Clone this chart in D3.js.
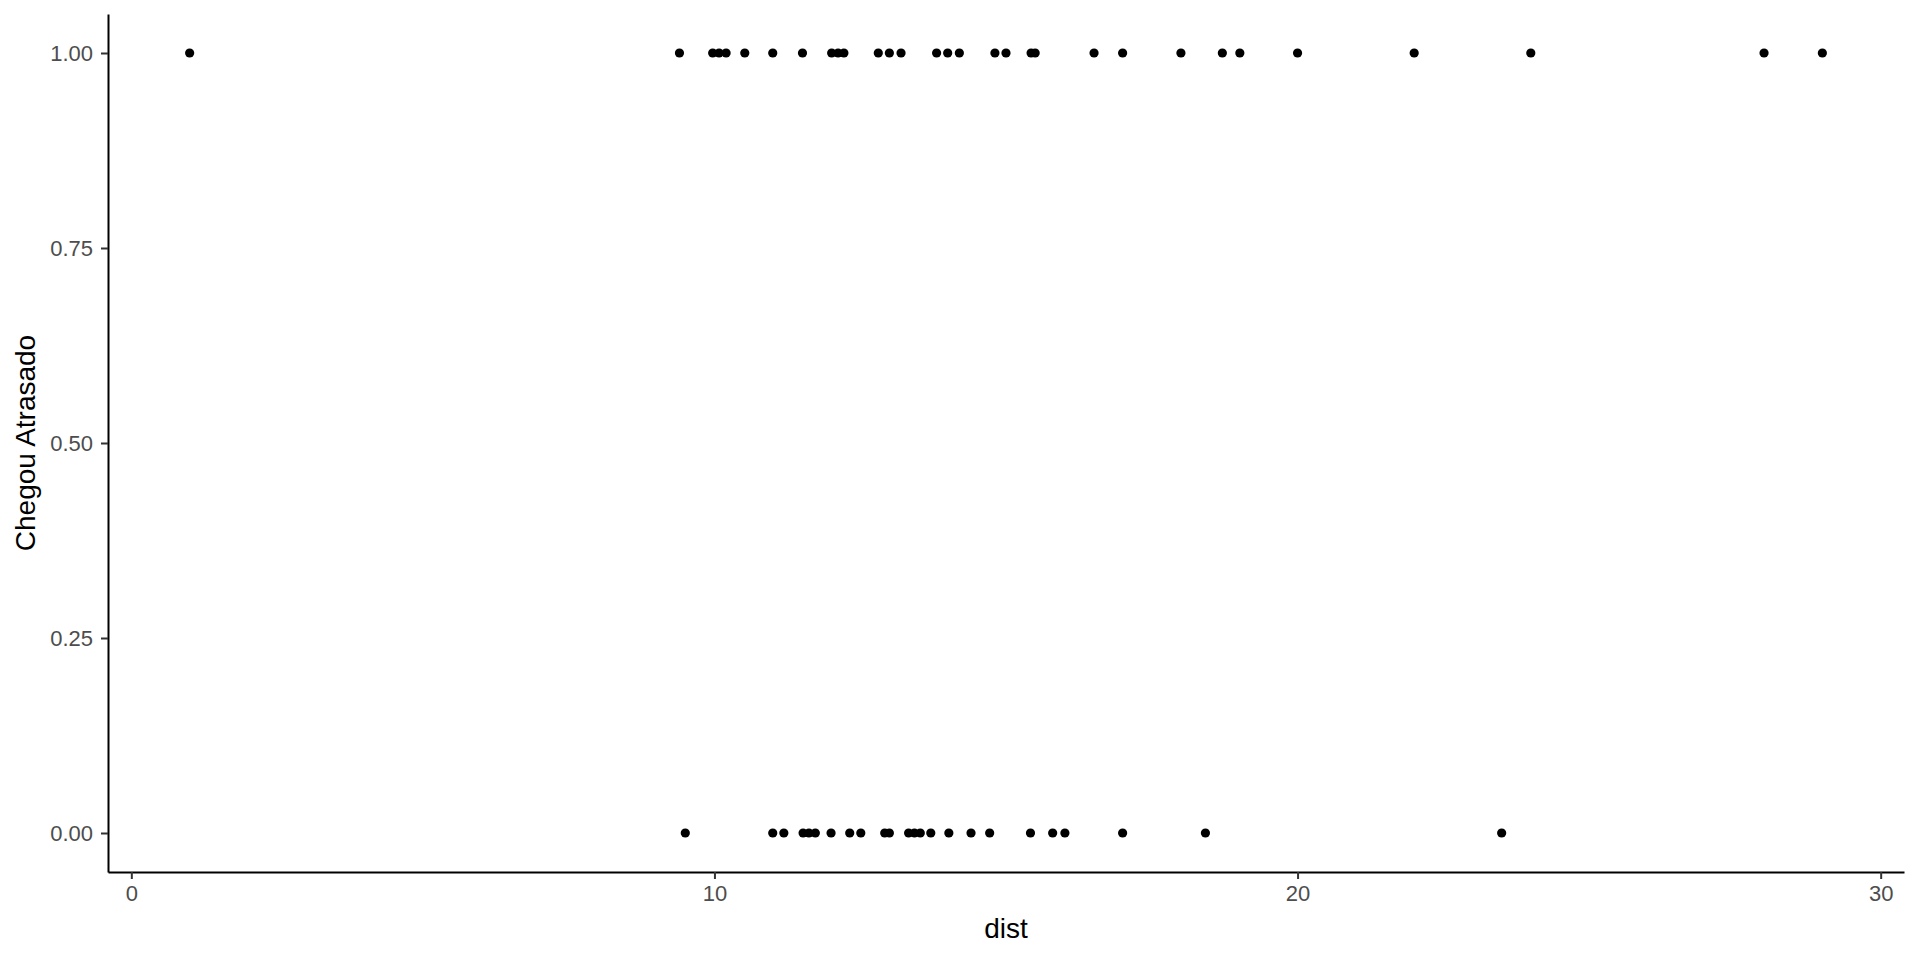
<!DOCTYPE html>
<html>
<head>
<meta charset="utf-8">
<script src="https://cdn.jsdelivr.net/npm/d3@7"></script>
<style>
  body { margin: 0; background: #fff; }
  svg text { font-family: "Liberation Sans", Arial, sans-serif; }
</style>
</head>
<body>
<div id="chart"></div>
<script>
var svgWidth = 1920;
var svgHeight = 960;

// distances for students that arrived late (y = 1) and on time (y = 0)
var distAtrasado = [1.0, 9.4, 9.97, 10.08, 10.2, 10.52, 11.0, 11.51, 12.01, 12.12, 12.22,
  12.81, 13.0, 13.2, 13.81, 14.0, 14.2, 14.81, 15.0, 15.43, 15.5, 16.51, 17.0,
  18.0, 18.71, 19.01, 20.0, 22.0, 24.0, 28.0, 29.0];
var distNoPrazo = [9.5, 11.0, 11.19, 11.52, 11.62, 11.73, 12.0, 12.32, 12.51, 12.92, 13.0,
  13.33, 13.43, 13.53, 13.71, 14.02, 14.4, 14.72, 15.42, 15.8, 16.01, 17.0, 18.42, 23.5];

var xTicks = [0, 10, 20, 30];
var yTicks = [0, 0.25, 0.5, 0.75, 1];

var margin = { top: 14, right: 16, bottom: 88, left: 108 };
var width = svgWidth - margin.left - margin.right;
var height = svgHeight - margin.top - margin.bottom;

var points = distAtrasado.map(d => ({ dist: d, late: 1 }))
  .concat(distNoPrazo.map(d => ({ dist: d, late: 0 })));

var svg = d3.select("#chart")
  .append("svg")
  .attr("width", svgWidth)
  .attr("height", svgHeight);

var chartGroup = svg.append("g")
  .attr("transform", `translate(${margin.left}, ${margin.top})`);

// ggplot-style 5% expansion on both axes
var xExtent = d3.extent(points, d => d.dist);
var xPad = (xExtent[1] - xExtent[0]) * 0.05;
var xScale = d3.scaleLinear()
  .domain([xExtent[0] - xPad, xExtent[1] + xPad])
  .range([0, width]);

var yScale = d3.scaleLinear()
  .domain([-0.05, 1.05])
  .range([height, 0]);

var bottomAxis = d3.axisBottom(xScale)
  .tickValues(xTicks)
  .tickSize(7)
  .tickSizeOuter(0)
  .tickPadding(6);

var leftAxis = d3.axisLeft(yScale)
  .tickValues(yTicks)
  .tickFormat(d3.format(".2f"))
  .tickSize(7)
  .tickSizeOuter(0)
  .tickPadding(8);

var xAxis = chartGroup.append("g")
  .attr("transform", `translate(0, ${height})`)
  .call(bottomAxis);

var yAxis = chartGroup.append("g")
  .call(leftAxis);

[xAxis, yAxis].forEach(function(ax) {
  ax.select(".domain").attr("stroke", "#000").attr("stroke-width", 2);
  ax.selectAll(".tick line").attr("stroke", "#333333").attr("stroke-width", 2);
  ax.selectAll(".tick text")
    .attr("fill", "#4d4d4d")
    .attr("font-size", "22px");
});

// points
chartGroup.selectAll("circle")
  .data(points)
  .enter()
  .append("circle")
  .attr("cx", d => xScale(d.dist))
  .attr("cy", d => yScale(d.late))
  .attr("r", 4.6)
  .attr("fill", "#000");

// axis titles
svg.append("text")
  .attr("x", margin.left + width / 2)
  .attr("y", 938)
  .attr("text-anchor", "middle")
  .attr("font-size", "28px")
  .attr("fill", "#000")
  .text("dist");

svg.append("text")
  .attr("transform", `translate(35, ${margin.top + height / 2}) rotate(-90)`)
  .attr("text-anchor", "middle")
  .attr("font-size", "28px")
  .attr("fill", "#000")
  .text("Chegou Atrasado");
</script>
</body>
</html>
